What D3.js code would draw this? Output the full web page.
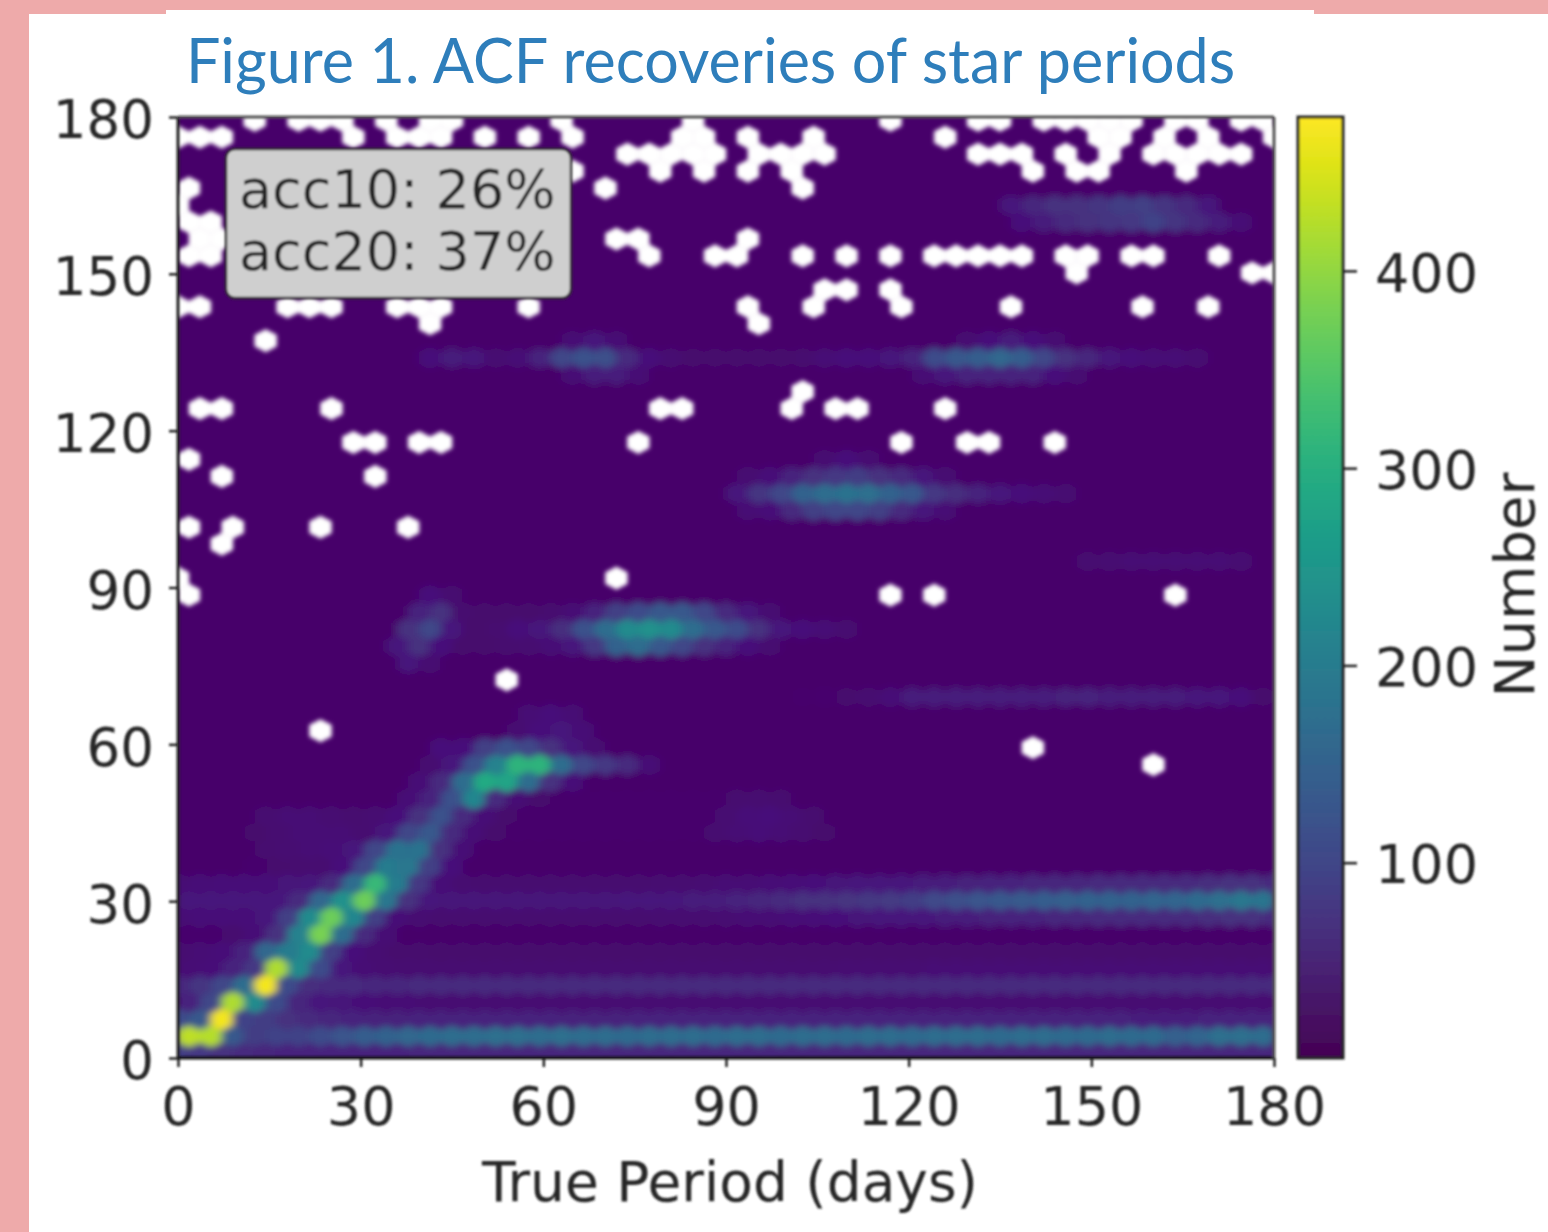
<!DOCTYPE html>
<html>
<head>
<meta charset="utf-8">
<script src="https://d3js.org/d3.v7.min.js"></script>
<style>
  body { margin: 0; background: #eeaaaa; }
  text { font-family: "DejaVu Sans"; fill: #262626; }
  .domain { display: none; }
</style>
</head>
<body>
<svg id="chart" width="1548" height="1232"></svg>
<script>
// tick labels
const xTicks = [0, 30, 60, 90, 120, 150, 180]
const yTicks = [0, 30, 60, 90, 120, 150, 180]
const colorTicks = [100, 200, 300, 400]
const accLabels = ["acc10: 26%", "acc20: 37%"]

// hexbin grid
const binDays = 3.6        // column spacing in days
const rowDays = 3.244      // half row spacing
const firstRowDays = 0.96
const rowCount = 56
const baseCount = 11
const maxCount = 478

// [row, first column, counts...] for the rows that stand out from the base
const countRows = [
  [0, 0, [85,80,70,60,55,50,50,50,50,50,52,55,55,55,55,55,55,55,55,55,55,55,55,55,55,55,55,55,55,55,55,55,55,55,55,55,55,55,55,55,55,55,55,55,55,55,55,55,55,55,55]],
  [1, 0, [430,425,130,85,95,95,110,125,140,150,160,165,170,170,175,175,170,175,170,170,165,170,170,170,165,170,170,165,170,170,165,170,170,165,170,170,170,165,170,170,165,165,170,165,165,145,155,175,175,170]],
  [2, 0, [110,130,470,95,85,70,60,55,50,48,48,50,50,50,50,50,50,50,48,48,48,50,50,50,50,50,50,50,50,50,50,50,50,50,50,50,50,50,50,50,50,50,50,50,46,46,46,50,50,50,50]],
  [3, 0, [50,100,420,230,110,55,40,32,28,24,22,20,20,20,20,20,20,20,20,20,20,20,20,20,20,20,20,20,20,20,20,20,20,20,20,20,20,20,20,20,20,20,20,20,20,20,20,20,20,20]],
  [4, 0, [55,75,100,170,470,110,65,60,58,56,56,58,58,60,60,60,58,60,60,58,60,60,60,58,60,60,60,58,58,60,60,60,58,58,60,60,60,58,60,60,60,58,58,60,58,60,60,60,60,58,58]],
  [5, 0, [22,28,50,80,420,230,110,35,22,20,18,18,18,18,18,18,18,18,18,18,18,18,18,18,18,18,18,18,18,18,20,20,20,20,22,22,22,22,22,22,22,22,22,22,22,22,22,22,22,22]],
  [6, 0, [18,22,28,50,160,200,230,90,30,20,15,15,14,14,14,14,14,14,14,14,14,14,14,14,14,14,14,14,14,14,14,14,14,14,14,14,14,14,14,14,14,14,14,14,14,14,14,14,14,14,14]],
  [7, 0, [13,13,16,26,70,210,380,170,60,22]],
  [8, 0, [24,28,28,28,40,90,230,370,220,90,26,20,16,16,16,16,16,16,16,16,16,16,18,18,18,20,22,24,26,28,30,32,34,36,40,42,46,48,50,52,54,56,58,60,60,62,62,64,66,66,60]],
  [9, 0, [34,36,40,40,40,60,160,240,370,190,70,38,32,32,32,32,32,32,32,32,36,36,40,42,46,52,56,62,66,66,72,78,82,88,105,115,125,130,135,140,145,150,150,150,155,155,165,175,190,185]],
  [10, 0, [22,26,28,28,28,32,40,60,170,320,200,80,26,18,16,16,16,16,16,16,16,16,18,18,20,22,24,26,28,30,32,34,36,38,42,44,48,50,52,54,56,56,58,58,60,60,62,64,66,66,60]],
  [11, 3, [13,15,16,18,30,100,200,190,90,30]],
  [12, 4, [16,20,24,26,40,100,180,180,70,25]],
  [13, 3, [14,18,22,24,22,18,40,100,130,60,25,14,12,12,12,12,12,12,12,12,12,18,24,28,24,18,14]],
  [14, 4, [18,22,24,20,16,20,30,70,120,60,25,14,12,12,12,12,12,12,12,12,12,20,28,30,22,16]],
  [15, 10, [25,50,120,220,60,22,14,12,12,12,12,12,12,12,12,16,18,16]],
  [16, 11, [25,60,170,290,280,170,70,28]],
  [17, 11, [18,40,120,210,310,310,170,100,80,60,25]],
  [18, 12, [30,30,90,120,100,70,40,20]],
  [19, 15, [20,30,40,25]],
  [20, 16, [22,30,22]],
  [21, 28, [12,13,15,18,26,42,46,46,42,44,46,46,48,50,46,44,42,42,38,34,30,14]],
  [23, 10, [35,20]],
  [24, 10, [40,70,30,14,14,16,18,25,40,80,150,170,130,100,70,50,30,18]],
  [25, 10, [70,100,40,14,16,30,40,65,120,170,230,240,230,170,130,110,70,40,30,25,18]],
  [26, 11, [50,70,16,14,14,14,16,22,50,90,110,130,130,100,60,35,20]],
  [27, 11, [30,18]],
  [29, 41, [18,20,22,22,22,22,22,20]],
  [32, 26, [22,28,60,90,100,100,90,60,40,24]],
  [33, 25, [40,75,100,150,170,180,175,150,130,80,65,50,40,30,25,20]],
  [34, 26, [20,28,50,70,80,85,70,60,35,20]],
  [35, 29, [20,30,20]],
  [40, 18, [24,45,45,24]],
  [40, 34, [22,40,50,50,50,50,30,20]],
  [41, 11, [30,45,35,20,25,50,100,120,115,60,30,20,14,14,14,14,14,16,25,30,30,35,50,110,130,140,160,140,100,70,55,40,30,25,25,20]],
  [42, 18, [22,40,24]],
  [42, 36, [20,30,45,30,20]],
  [49, 38, [30,45,60,70,75,80,95,75,60,45,25]],
  [50, 38, [35,55,70,70,75,85,90,75,60,40]]
]

// [row, columns...] of the bins with no stars, left white
const emptyBins = [
  [55, [3,5,6,7,9,11,12,17,23,32,36,37,39,40,41,42,43,45,46,48,49]],
  [54, [0,1,2,8,10,11,12,14,16,18,23,24,26,29,35,42,43,45,47,50]],
  [53, [20,21,22,23,24,26,27,28,29,36,37,38,40,42,44,45,46,47,48]],
  [52, [18,22,24,26,28,39,41,42,46]],
  [51, [0,19,28]],
  [50, [0]],
  [49, [0,1]],
  [48, [1,2,20,21,26]],
  [47, [0,1,21,24,25,28,30,32,34,35,36,37,38,40,41,43,44,47]],
  [46, [41,49,50]],
  [45, [29,30,32]],
  [44, [0,1,5,6,7,10,11,12,16,26,29,33,38,44,47]],
  [43, [11,26]],
  [42, [4]],
  [39, [28]],
  [38, [1,2,7,22,23,28,30,31,35]],
  [36, [8,9,11,12,21,33,36,37,40]],
  [35, [0]],
  [34, [2,9]],
  [31, [0,2,6,10]],
  [30, [2]],
  [28, [0,20]],
  [27, [0,32,34,45]],
  [22, [15]],
  [19, [6]],
  [18, [39]],
  [17, [44]]
]

const plot = {left: 178, right: 1274, top: 117, bottom: 1058}
const bar = {left: 1298, right: 1343}

const svg = d3.select("#chart")

const scaleX = d3.scaleLinear().domain([0, 180]).range([plot.left, plot.right])
const scaleY = d3.scaleLinear().domain([0, 180]).range([plot.bottom, plot.top])
const scaleBar = d3.scaleLinear().domain([1, maxCount]).range([plot.bottom, plot.top])
const colorScale = d3.scaleSequential(d3.interpolateViridis).domain([1, maxCount])
// the scan shows the lowest bins as a stronger purple than the colormap
const lowColor = d3.scaleLinear().domain([baseCount, 30, 70]).range(["#47056b", "#47107a", colorScale(70)]).clamp(true)
const binColor = c => c < 70 ? lowColor(c) : colorScale(c)

// white page with the pink frame around it
svg.append("rect").attr("x", 29).attr("y", 14).attr("width", 1519).attr("height", 1218).attr("fill", "white")
svg.append("rect").attr("x", 166).attr("y", 10).attr("width", 1148).attr("height", 10).attr("fill", "white")

let defs = svg.append("defs")
defs.append("clipPath").attr("id", "plot-clip").append("rect")
  .attr("x", plot.left).attr("y", plot.top)
  .attr("width", plot.right - plot.left).attr("height", plot.bottom - plot.top)
defs.append("filter").attr("id", "soft").attr("x", "-5%").attr("y", "-5%").attr("width", "110%").attr("height", "110%")
  .append("feGaussianBlur").attr("stdDeviation", "4 3")
defs.append("filter").attr("id", "soft-white").attr("x", "-5%").attr("y", "-5%").attr("width", "110%").attr("height", "110%")
  .append("feGaussianBlur").attr("stdDeviation", 2)
defs.append("filter").attr("id", "soft-text").attr("x", "-5%").attr("y", "-5%").attr("width", "110%").attr("height", "110%")
  .append("feGaussianBlur").attr("stdDeviation", 0.8)

let gradient = defs.append("linearGradient").attr("id", "viridis")
  .attr("x1", 0).attr("y1", 1).attr("x2", 0).attr("y2", 0)
d3.range(0, 1.01, 0.05).forEach(t => {
  gradient.append("stop").attr("offset", t).attr("stop-color", d3.interpolateViridis(t))
})

// fill the grid
let bins = []
for (let row = 0; row < rowCount; row++) {
  let cols = row % 2 ? 50 : 51
  for (let col = 0; col < cols; col++) {
    bins.push({row: row, col: col, count: baseCount})
  }
}
const binAt = (row, col) => bins.find(b => b.row === row && b.col === col)
countRows.forEach(([row, first, values]) => {
  values.forEach((v, i) => {
    let b = binAt(row, first + i)
    if (b) b.count = v
  })
})
emptyBins.forEach(([row, cols]) => {
  cols.forEach(col => {
    let b = binAt(row, col)
    if (b) b.count = 0
  })
})

const hexPath = d => {
  let period = (d.col + (d.row % 2 ? 0.5 : 0)) * binDays
  let found = firstRowDays + d.row * rowDays
  let sx = binDays / 2
  let sy = rowDays * 2 / 3
  let pts = [[sx, -sy / 2], [sx, sy / 2], [0, sy], [-sx, sy / 2], [-sx, -sy / 2], [0, -sy]]
  return "M" + pts.map(p => [scaleX(period + p[0]), scaleY(found + p[1])].join(",")).join("L") + "Z"
}

let hexLayer = svg.append("g").attr("clip-path", "url(#plot-clip)")

// counts first, blurred more than the white holes so the bands smear like the scan
let countLayer = hexLayer.append("g").attr("filter", "url(#soft)")
countLayer.append("rect")
  .attr("x", plot.left - 30).attr("y", plot.top - 30)
  .attr("width", plot.right - plot.left + 60).attr("height", plot.bottom - plot.top + 60)
  .attr("fill", binColor(baseCount))
countLayer.selectAll("path")
  .data(bins)
  .join("path")
  .attr("d", hexPath)
  .attr("fill", d => d.count > 0 ? binColor(d.count) : binColor(baseCount))
  .attr("stroke", d => d.count > 0 ? binColor(d.count) : binColor(baseCount))
  .attr("stroke-width", 0.5)

hexLayer.append("g").attr("filter", "url(#soft-white)")
  .selectAll("path")
  .data(bins.filter(b => b.count === 0))
  .join("path")
  .attr("d", hexPath)
  .attr("fill", "white")
  .attr("stroke", "white")
  .attr("stroke-width", 0.5)

// axes, spines and labels get a small blur like the rest of the scan
let ink = svg.append("g").attr("filter", "url(#soft-text)")

let xAxis = ink.append("g").attr("transform", `translate(0, ${plot.bottom})`)
  .call(d3.axisBottom(scaleX).tickValues(xTicks).tickSize(9).tickPadding(20))
let yAxis = ink.append("g").attr("transform", `translate(${plot.left}, 4)`)
  .call(d3.axisLeft(scaleY).tickValues(yTicks).tickSize(9).tickPadding(15))
let barAxis = ink.append("g").attr("transform", `translate(${bar.right}, 3)`)
  .call(d3.axisRight(scaleBar).tickValues(colorTicks).tickSize(14).tickPadding(18))

;[xAxis, yAxis, barAxis].forEach(axis => {
  axis.selectAll("text").attr("font-size", 54).attr("font-family", "DejaVu Sans").attr("fill", "#262626")
  axis.selectAll("line").attr("stroke", "#222").attr("stroke-width", 2.5)
})
yAxis.selectAll("text").attr("font-size", 53)
yAxis.selectAll("line").attr("transform", "translate(0, -4)")
barAxis.selectAll("line").attr("transform", "translate(0, -3)")

ink.append("line").attr("x1", plot.left).attr("x2", plot.right).attr("y1", plot.bottom).attr("y2", plot.bottom)
  .attr("stroke", "#111").attr("stroke-width", 3)
ink.append("line").attr("x1", plot.left).attr("x2", plot.left).attr("y1", plot.top).attr("y2", plot.bottom)
  .attr("stroke", "#222").attr("stroke-width", 3)
ink.append("line").attr("x1", plot.left).attr("x2", plot.right).attr("y1", plot.top).attr("y2", plot.top)
  .attr("stroke", "#555").attr("stroke-width", 3)
ink.append("line").attr("x1", plot.right).attr("x2", plot.right).attr("y1", plot.top).attr("y2", plot.bottom)
  .attr("stroke", "#555").attr("stroke-width", 3)

ink.append("text").text("True Period (days)")
  .attr("x", 730).attr("y", 1201).attr("text-anchor", "middle").attr("font-size", 55)
ink.append("text").text("Number")
  .attr("transform", "translate(1534, 585) rotate(-90)").attr("text-anchor", "middle").attr("font-size", 56)

// colorbar
ink.append("rect").attr("x", bar.left).attr("y", plot.top)
  .attr("width", bar.right - bar.left).attr("height", plot.bottom - plot.top)
  .attr("fill", "url(#viridis)").attr("stroke", "#222").attr("stroke-width", 3)

// accuracy box
ink.append("rect").attr("x", 226).attr("y", 149).attr("width", 345).attr("height", 149).attr("rx", 9)
  .attr("fill", "#cfcfcf").attr("stroke", "#333").attr("stroke-width", 2.5)
ink.selectAll(".acc").data(accLabels).join("text").attr("class", "acc")
  .text(d => d).attr("x", 239).attr("y", (d, i) => 208 + i * 62).attr("font-size", 54)

// figure title, sharp, pasted on top of the scan
svg.append("text").text("Figure 1. ACF recoveries of star periods")
  .attr("x", 186).attr("y", 83).attr("font-size", 61)
  .style("font-family", "Lato").style("fill", "#2e7ebb")
</script>
</body>
</html>
